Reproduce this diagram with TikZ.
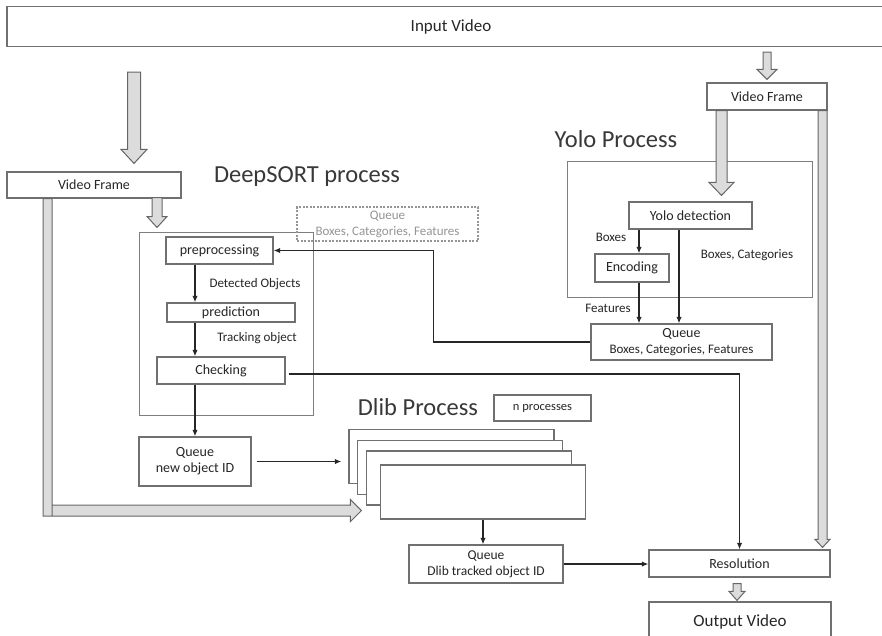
\documentclass[tikz,border=0pt]{standalone}
\usepackage{fontspec}
\setmainfont{Carlito}
\usepackage{xcolor}
\usetikzlibrary{arrows.meta,positioning,calc}
\definecolor{ink}{HTML}{262626}
\definecolor{boxline}{HTML}{707070}
\definecolor{arrfill}{HTML}{DCDCDC}
\definecolor{arrline}{HTML}{666666}
\definecolor{faded}{HTML}{959595}
% grey block arrow pointing down: #1 top, #2 tip, #3 half shaft, #4 half head, #5 head length
\newcommand{\fatdown}[5]{%
  \draw[fat] let \p1=#1, \p2=#2 in
    (\x1-#3pt,\y1) -- (\x1+#3pt,\y1) -- (\x1+#3pt,\y2+#5pt) -- (\x1+#4pt,\y2+#5pt)
    -- (\x1,\y2) -- (\x1-#4pt,\y2+#5pt) -- (\x1-#3pt,\y2+#5pt) -- cycle;}

\begin{document}
\begin{tikzpicture}[x=1pt,y=-1pt,font=\fontsize{14}{16}\selectfont,text=ink,
  box/.style={draw=boxline,fill=white,line width=1.2pt,inner sep=1pt,align=center},
  frame/.style={draw=boxline!90,line width=1pt},
  lbl/.style={font=\fontsize{13}{15}\selectfont,inner sep=0pt},
  ttl/.style={font=\fontsize{24.5}{28}\selectfont,text=black!78,inner sep=0pt},
  w/.style={-{Latex[length=2.3mm,width=1.9mm]},ink,line width=1.6pt},
  fat/.style={draw=arrline,fill=arrfill,line width=1pt}]
  \clip (0,0) rectangle (882,635);
  \fill[white] (0,0) rectangle (882,635);

  % top
  \node[box,minimum width=888pt,minimum height=40pt,font=\fontsize{17}{19}\selectfont] (inp) at (451,26.5) {Input Video};
  \node[box,minimum width=174pt,minimum height=26pt] (vfL) at (94,185) {Video Frame};
  \node[box,minimum width=120pt,minimum height=27pt] (vfR) at (767,96.5) {Video Frame};

  % DeepSORT
  \node[frame,minimum width=174pt,minimum height=183pt] (ds) at (226,323.5) {};
  \node[ttl] (dsT) at (307,177) {DeepSORT process};
  \node[draw=faded,dash pattern=on 2pt off 1.5pt,line width=1.1pt,text=faded,align=center,
        minimum width=181pt,minimum height=34pt,inner sep=0pt,font=\fontsize{13}{16}\selectfont] (dq) at (387.5,224)
       {Queue\\Boxes, Categories, Features};
  \node[box,minimum width=107pt,minimum height=27pt] (pre) at (219.5,250.5) {preprocessing};
  \node[box,minimum width=128pt,minimum height=19pt] (pred) at (231,312.5) {prediction};
  \node[box,minimum width=128pt,minimum height=27pt] (chk) at (221,370.5) {Checking};
  \node[box,minimum width=112pt,minimum height=49pt] (qn) at (195,461.5) {Queue\\new object ID};
  \node[lbl] (lDet) at (255,284) {Detected Objects};
  \node[lbl] (lTrk) at (257,338) {Tracking object};

  % Yolo
  \node[frame,minimum width=245pt,minimum height=136pt] (yb) at (689.5,229) {};
  \node[ttl] (yT) at (616,139) {Yolo Process};
  \node[box,minimum width=123pt,minimum height=27pt] (yd) at (690.5,215.5) {Yolo detection};
  \node[box,minimum width=74pt,minimum height=28pt] (enc) at (632,268) {Encoding};
  \node[box,minimum width=181pt,minimum height=36pt,font=\fontsize{13}{16}\selectfont] (yq) at (681.5,342)
       {{\fontsize{14}{16}\selectfont Queue}\\Boxes, Categories, Features};
  \node[lbl] (lBox) at (611,237) {Boxes};
  \node[lbl] (lBC) at (747,255) {Boxes, Categories};
  \node[lbl] (lFt) at (608,308) {Features};

  % Dlib
  \node[ttl] (dlT) at (418,407) {Dlib Process};
  \node[box,minimum width=97pt,minimum height=26pt,font=\fontsize{12.5}{14}\selectfont] (np) at (542.5,408) {n processes};
  \foreach \n/\cx/\cy in {1/451.5/456.5,2/460/467.5,3/469/478,4/483/492}
    \node[box,minimum width=205pt,minimum height=54pt] (d\n) at (\cx,\cy) {};
  \node[box,minimum width=154pt,minimum height=38pt,font=\fontsize{13.5}{16}\selectfont] (qd) at (486,564)
       {Queue\\Dlib tracked object ID};

  % output
  \node[box,minimum width=181pt,minimum height=27pt] (res) at (739.5,563.5) {Resolution};
  \node[box,minimum width=182pt,minimum height=40pt,font=\fontsize{17}{19}\selectfont] (out) at (740,622) {Output Video};

  % grey flow arrows
  \coordinate (fa) at (134,72);
  \coordinate (fb) at ([yshift=8pt]vfL.north);
  \fatdown{(fa)}{(fb)}{6.5}{13}{14}
  \fatdown{([xshift=63pt,yshift=1pt]vfL.south)}{([yshift=4pt]ds.north)}{5}{10}{11}
  \coordinate (fe) at (767,52);
  \fatdown{(fe)}{([yshift=3pt]vfR.north)}{4}{10}{10}
  \fatdown{([xshift=-45.5pt]vfR.south)}{([yshift=6pt]yd.north)}{5.5}{12.5}{13}
  \fatdown{([xshift=55.5pt]vfR.south)}{([yshift=2pt]res.north)}{4.5}{7.5}{8}
  \fatdown{([xshift=-2.5pt,yshift=-6pt]res.south)}{([yshift=1pt]out.north)}{4}{8}{9}
  \coordinate (lb) at ([xshift=-46.5pt]vfL.south);
  \coordinate (lt) at ([xshift=-18.5pt,yshift=9pt]d4.south west);
  \draw[fat] let \p1=(lb), \p2=(lt) in
    (\x1-4.5pt,\y1) -- (\x1-4.5pt,\y2-5.5pt) -- (\x2-11pt,\y2-5.5pt) -- (\x2-11pt,\y2-11pt)
    -- (\p2) -- (\x2-11pt,\y2+11pt) -- (\x2-11pt,\y2+5.5pt) -- (\x1+4.5pt,\y2+5.5pt) -- (\x1+4.5pt,\y1) -- cycle
    (\x1+4.5pt,\y2+5.5pt) -- (\x1+4.5pt,\y2-5.5pt);

  % connectors
  \draw[w] (pre.south -| qn.north) -- (pred.north -| qn.north);
  \draw[w] (pred.south -| qn.north) -- (chk.north -| qn.north);
  \draw[w] (chk.south -| qn.north) -- (qn.north);
  \draw[w] ([xshift=5pt]qn.east) -- ([xshift=-7pt]qn.east -| d1.west);
  \draw[w] (d4.south) -- (d4.south |- qd.north);
  \draw[w] (qd.east) -- (res.west |- qd.east);
  \draw[w] ([xshift=3pt,yshift=-3.5pt]chk.east) -| (res.north);
  \coordinate (ex) at ([xshift=7pt]enc.north);
  \draw[w] (yd.south -| ex) -- (ex);
  \draw[w] (enc.south -| ex) -- (yq.north -| ex);
  \coordinate (yx) at ([xshift=-11.5pt]yd.south);
  \draw[w] (yx) -- (yx |- yq.north);
  \draw[w] (yq.west) -| ([xshift=160pt]pre.east) -- (pre.east);
\end{tikzpicture}
\end{document}
